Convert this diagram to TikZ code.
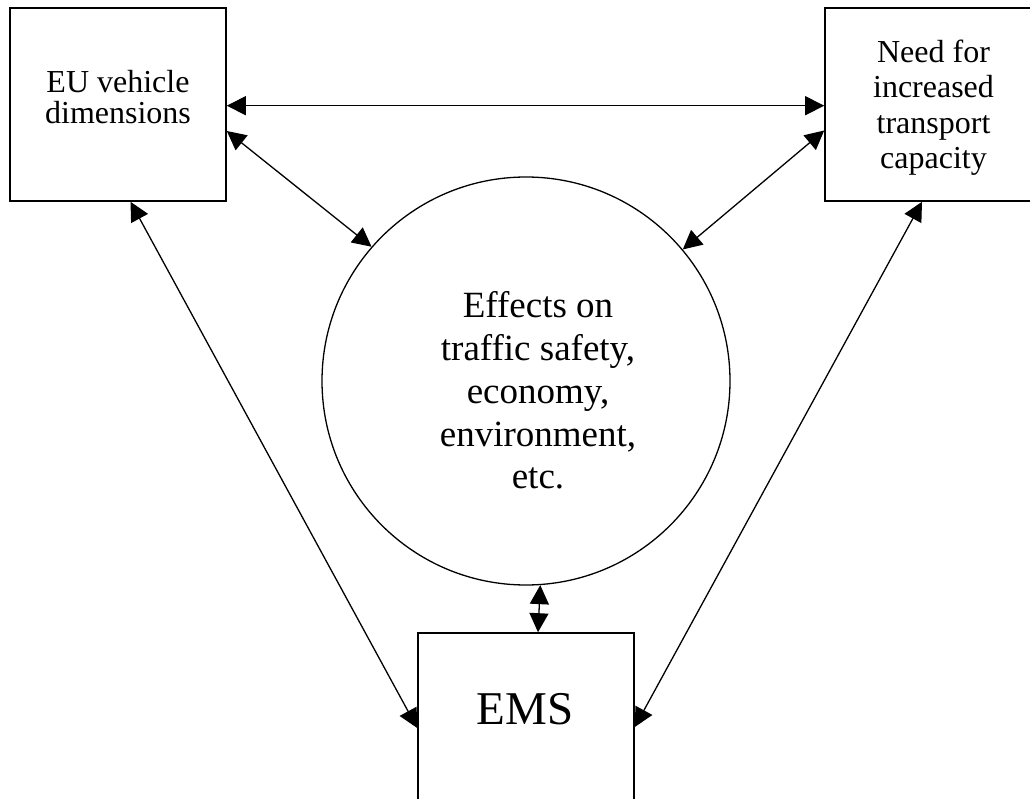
\documentclass[tikz,border=0pt]{standalone}
\usepackage{fontspec}
\setmainfont{Liberation Serif}
\usetikzlibrary{arrows.meta}
\begin{document}
\begin{tikzpicture}[x=1pt,y=-1pt,
  boxnode/.style={draw, line width=1.6pt, minimum width=216pt, minimum height=193pt, inner sep=0pt},
  txt/.style={inner sep=0pt, align=center},
  link/.style={line width=1.3pt, {Triangle[length=19pt,width=19pt]}-{Triangle[length=19pt,width=19pt]}}]
\useasboundingbox (0,0) rectangle (1030,799);
\clip (0,0) rectangle (1030,799);
% boxes
\node[boxnode] (L) at (118,104.5) {};
\node[boxnode] (R) at (933,104.5) {};
\node[boxnode] (E) at (526,729.5) {};
\node[draw, circle, line width=1.3pt, minimum size=408pt, inner sep=0pt] (C) at (526,381) {};
% texts
\node[txt, anchor=north, font=\fontsize{32}{31.6}\selectfont] (Lt) at (118,69.8) {EU vehicle\\dimensions};
\node[txt, anchor=north, font=\fontsize{32}{35.5}\selectfont] (Rt) at (933.5,39.6) {Need for\\increased\\transport\\capacity};
\node[txt, anchor=north, font=\fontsize{37}{42.75}\selectfont] (Ct) at (538,291.5) {Effects on\\traffic safety,\\economy,\\environment,\\etc.};
\node[anchor=base, inner sep=0pt, font=\fontsize{47}{50}\selectfont] (Et) at (525,724) {EMS};
% connectors
\draw[link] ([yshift=-1.2pt]L.east) -- ([yshift=-1.2pt]R.west);
\draw[link] ([yshift=-26.5pt]L.east) -- (C.139.5);
\draw[link] ([yshift=-26pt]R.west) -- (C.40.3);
\draw[link] ([xshift=12.5pt]L.south) -- ([yshift=1.5pt]E.west);
\draw[link] ([xshift=-11pt]R.south) -- ([yshift=2.5pt]E.east);
\draw[link] (C.-86.6) -- ([xshift=12pt]E.north);
\end{tikzpicture}
\end{document}
